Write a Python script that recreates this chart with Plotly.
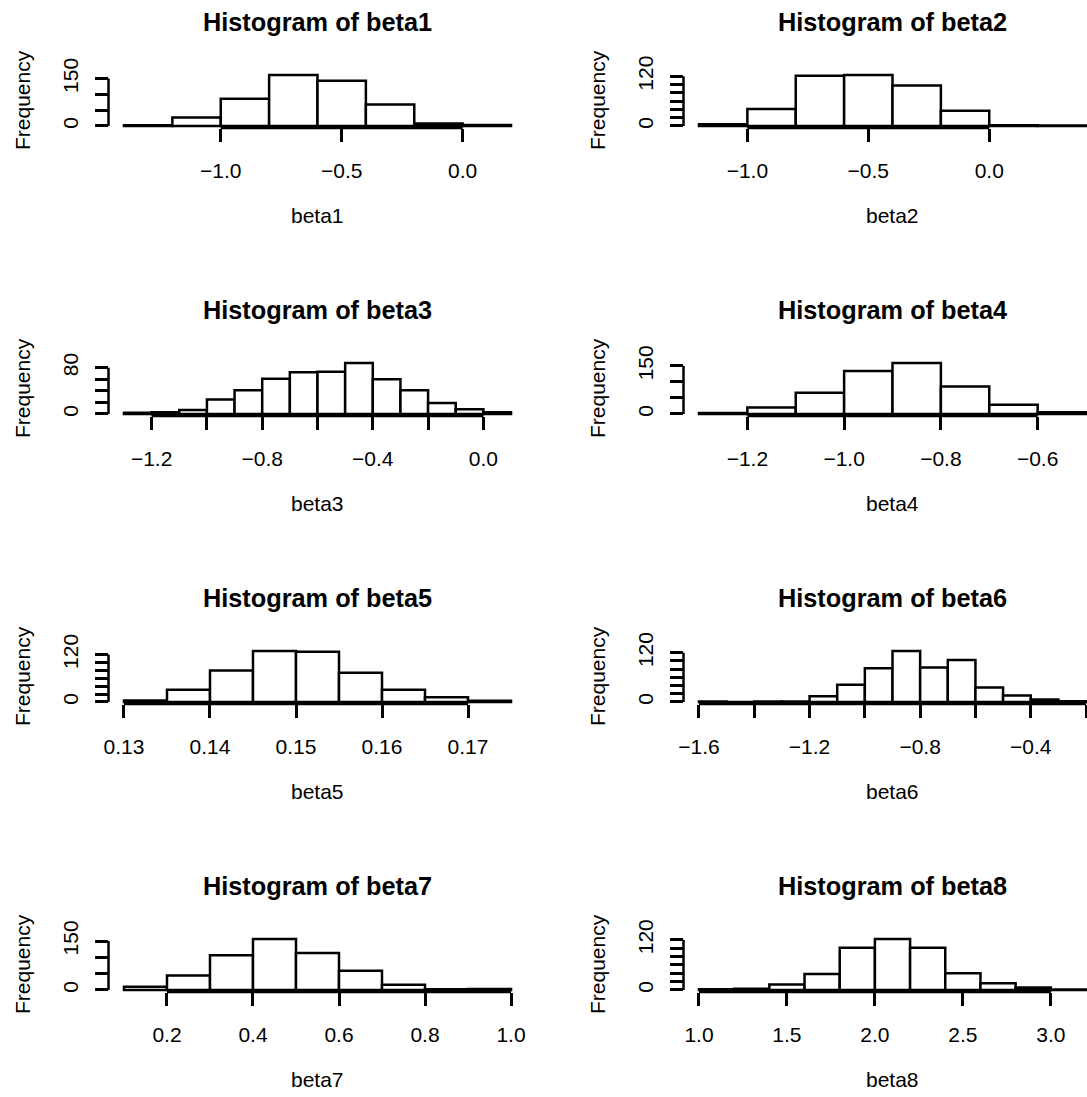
import plotly.graph_objects as go

# ---------------- data ----------------
names = ["beta1", "beta2", "beta3", "beta4", "beta5", "beta6", "beta7", "beta8"]

beta1_edges = [-1.4, -1.2, -1.0, -0.8, -0.6, -0.4, -0.2, 0.0, 0.2]
beta1_counts = [2, 27, 86, 161, 143, 68, 8, 3]

beta2_edges = [-1.2, -1.0, -0.8, -0.6, -0.4, -0.2, 0.0, 0.2, 0.4]
beta2_counts = [4, 41, 121, 123, 98, 37, 2, 1]

beta3_edges = [-1.3, -1.2, -1.1, -1.0, -0.9, -0.8, -0.7, -0.6, -0.5, -0.4, -0.3, -0.2, -0.1, 0.0, 0.1]
beta3_counts = [2, 3, 7, 25, 41, 61, 72, 73, 88, 60, 41, 19, 8, 3]

beta4_edges = [-1.3, -1.2, -1.1, -1.0, -0.9, -0.8, -0.7, -0.6, -0.5]
beta4_counts = [3, 20, 66, 134, 159, 86, 29, 5]

beta5_edges = [0.130, 0.135, 0.140, 0.145, 0.150, 0.155, 0.160, 0.165, 0.170, 0.175]
beta5_counts = [4, 31, 80, 129, 127, 74, 31, 12, 3]

beta6_edges = [-1.6, -1.5, -1.4, -1.3, -1.2, -1.1, -1.0, -0.9, -0.8, -0.7, -0.6, -0.5, -0.4, -0.3, -0.2]
beta6_counts = [1, 0, 1, 1, 14, 42, 82, 124, 84, 102, 35, 16, 6, 2]

beta7_edges = [0.1, 0.2, 0.3, 0.4, 0.5, 0.6, 0.7, 0.8, 0.9, 1.0]
beta7_counts = [10, 44, 106, 156, 113, 59, 16, 2, 3]

beta8_edges = [1.0, 1.2, 1.4, 1.6, 1.8, 2.0, 2.2, 2.4, 2.6, 2.8, 3.0, 3.2]
beta8_counts = [2, 3, 13, 38, 101, 122, 101, 40, 16, 6, 1]

# x tick positions and labels
beta1_xticks = [-1.0, -0.5, 0.0]
beta1_xlabels = ["\u22121.0", "\u22120.5", "0.0"]
beta2_xticks = [-1.0, -0.5, 0.0]
beta2_xlabels = ["\u22121.0", "\u22120.5", "0.0"]
beta3_xticks = [-1.2, -1.0, -0.8, -0.6, -0.4, -0.2, 0.0]
beta3_xlabels = ["\u22121.2", "", "\u22120.8", "", "\u22120.4", "", "0.0"]
beta4_xticks = [-1.2, -1.0, -0.8, -0.6]
beta4_xlabels = ["\u22121.2", "\u22121.0", "\u22120.8", "\u22120.6"]
beta5_xticks = [0.13, 0.14, 0.15, 0.16, 0.17]
beta5_xlabels = ["0.13", "0.14", "0.15", "0.16", "0.17"]
beta6_xticks = [-1.6, -1.4, -1.2, -1.0, -0.8, -0.6, -0.4, -0.2]
beta6_xlabels = ["\u22121.6", "", "\u22121.2", "", "\u22120.8", "", "\u22120.4", ""]
beta7_xticks = [0.2, 0.4, 0.6, 0.8, 1.0]
beta7_xlabels = ["0.2", "0.4", "0.6", "0.8", "1.0"]
beta8_xticks = [1.0, 1.5, 2.0, 2.5, 3.0]
beta8_xlabels = ["1.0", "1.5", "2.0", "2.5", "3.0"]

# y tick positions and labels
yt50 = [0, 50, 100, 150]
yl50 = ["0", "", "", "150"]
yt20_120 = [0, 20, 40, 60, 80, 100, 120]
yl20_120 = ["0", "", "", "", "", "", "120"]
yt20_80 = [0, 20, 40, 60, 80]
yl20_80 = ["0", "", "", "", "80"]

edges_all = [beta1_edges, beta2_edges, beta3_edges, beta4_edges,
             beta5_edges, beta6_edges, beta7_edges, beta8_edges]
counts_all = [beta1_counts, beta2_counts, beta3_counts, beta4_counts,
              beta5_counts, beta6_counts, beta7_counts, beta8_counts]
xticks_all = [beta1_xticks, beta2_xticks, beta3_xticks, beta4_xticks,
              beta5_xticks, beta6_xticks, beta7_xticks, beta8_xticks]
xlabels_all = [beta1_xlabels, beta2_xlabels, beta3_xlabels, beta4_xlabels,
               beta5_xlabels, beta6_xlabels, beta7_xlabels, beta8_xlabels]
yticks_all = [yt50, yt20_120, yt20_80, yt50, yt20_120, yt20_120, yt50, yt20_120]
ylabels_all = [yl50, yl20_120, yl20_80, yl50, yl20_120, yl20_120, yl50, yl20_120]

# ---------------- layout (pixels) ----------------
FIG_W, FIG_H = 1087, 1097
COL_LEFT = [108.5, 683.5]
PLOT_W = 418
ROW_BOTTOM = [128, 416, 704, 992]
PLOT_H = 55

FONT = "Liberation Sans, Arial, Helvetica, sans-serif"
TICK_SIZE = 21
LABEL_SIZE = 21
TITLE_SIZE = 25.3
LW = 2.5

fig = go.Figure()
shapes = []
annotations = []
layout_axes = {}

for i in range(8):
    row, col = divmod(i, 2)
    edges = edges_all[i]
    counts = counts_all[i]
    n = i + 1
    xa = "x" if n == 1 else f"x{n}"
    ya = "y" if n == 1 else f"y{n}"
    xkey = "xaxis" if n == 1 else f"xaxis{n}"
    ykey = "yaxis" if n == 1 else f"yaxis{n}"

    centers = [(edges[k] + edges[k + 1]) / 2 for k in range(len(counts))]
    widths = [edges[k + 1] - edges[k] for k in range(len(counts))]
    fig.add_trace(go.Bar(
        x=centers, y=counts, width=widths,
        marker=dict(color="white", line=dict(color="black", width=LW)),
        xaxis=xa, yaxis=ya, showlegend=False, hoverinfo="x+y",
    ))

    # R style 4% extended limits
    span = edges[-1] - edges[0]
    x0 = edges[0] - 0.04 * span
    x1 = edges[-1] + 0.04 * span
    left_px = COL_LEFT[col]
    right_px = left_px + PLOT_W
    vis_right = min(right_px, FIG_W)
    x1_vis = x0 + (vis_right - left_px) / PLOT_W * (x1 - x0)
    ymax = max(counts)
    y0 = -0.04 * ymax
    y1 = 1.04 * ymax
    bottom_px = ROW_BOTTOM[row]
    top_px = bottom_px - PLOT_H

    layout_axes[xkey] = dict(
        domain=[left_px / FIG_W, vis_right / FIG_W], range=[x0, x1_vis], anchor=ya,
        showgrid=False, zeroline=False, showline=False, automargin=False,
        ticks="outside", ticklen=13, tickwidth=LW, tickcolor="black",
        tickmode="array", tickvals=xticks_all[i], ticktext=xlabels_all[i],
        tickfont=dict(family=FONT, size=TICK_SIZE, color="black"),
        ticklabelstandoff=11, fixedrange=True,
    )
    layout_axes[ykey] = dict(
        domain=[1 - bottom_px / FIG_H, 1 - top_px / FIG_H], range=[y0, y1], anchor=xa,
        showgrid=False, zeroline=False, showline=False, automargin=False,
        ticks="outside", ticklen=13, tickwidth=LW, tickcolor="black",
        tickmode="array", tickvals=yticks_all[i], ticktext=ylabels_all[i],
        tickangle=-90,
        tickfont=dict(family=FONT, size=TICK_SIZE, color="black"),
        ticklabelstandoff=8, fixedrange=True,
    )

    # R style axis lines spanning first to last tick
    shapes.append(dict(type="line", xref=xa, yref=f"{ya} domain",
                       x0=xticks_all[i][0], x1=xticks_all[i][-1], y0=0, y1=0,
                       line=dict(color="black", width=LW)))
    shapes.append(dict(type="line", xref=f"{xa} domain", yref=ya,
                       x0=0, x1=0, y0=yticks_all[i][0], y1=yticks_all[i][-1],
                       line=dict(color="black", width=LW)))

    cx = left_px + PLOT_W / 2
    # title
    annotations.append(dict(
        text=f"Histogram of {names[i]}", xref="paper", yref="paper",
        x=cx / FIG_W, y=1 - (top_px - 50.7) / FIG_H, xanchor="center", yanchor="middle",
        showarrow=False, font=dict(family=FONT, size=TITLE_SIZE, color="black", weight="bold"),
    ))
    # x label
    annotations.append(dict(
        text=names[i], xref="paper", yref="paper",
        x=cx / FIG_W, y=1 - (bottom_px + 87) / FIG_H, xanchor="center", yanchor="middle",
        showarrow=False, font=dict(family=FONT, size=LABEL_SIZE, color="black"),
    ))
    # y label
    annotations.append(dict(
        text="Frequency", xref="paper", yref="paper",
        x=(left_px - 86) / FIG_W, y=1 - (bottom_px - PLOT_H / 2) / FIG_H,
        xanchor="center", yanchor="middle", textangle=-90,
        showarrow=False, font=dict(family=FONT, size=LABEL_SIZE, color="black"),
    ))

fig.update_layout(
    width=FIG_W, height=FIG_H,
    margin=dict(l=0, r=0, t=0, b=0, autoexpand=False),
    paper_bgcolor="white", plot_bgcolor="white",
    showlegend=False, barmode="overlay",
    shapes=shapes, annotations=annotations,
    **layout_axes,
)

fig.write_html("out.html", config={"displayModeBar": False})
